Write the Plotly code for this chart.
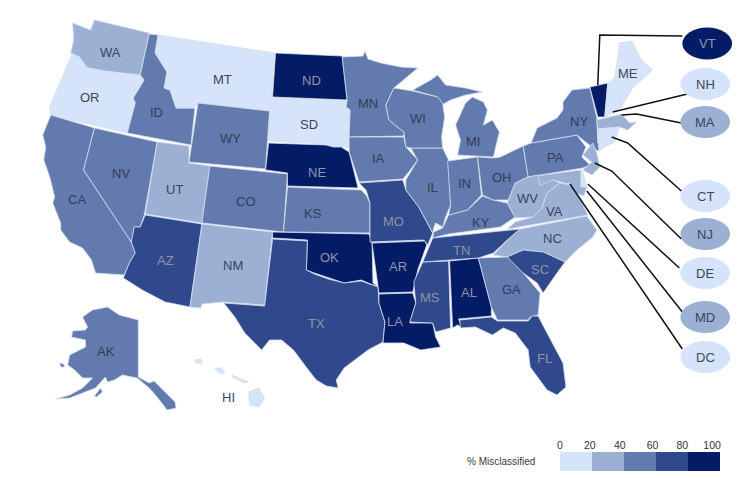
import plotly.graph_objects as go

# outlines (pixel coords), the cdn map can't be loaded offline
WA = [(70,23),(88,30),(92,20),(147,33),(138,75),(113,72),(102,71),(85,68),(78,63),(77,57),(68,53),(71,40)]
OR = [(69,55),(77,57),(85,68),(102,71),(140,76),(142,80),(131,98),(133,103),(125,133),(48,115),(47,107),(57,83)]
CA = [(48,115),(92,128),(81,170),(129,242),(133,253),(127,263),(122,275),(93,273),(89,260),(80,248),(67,242),(58,230),(58,223),(50,203),(52,197),(47,177),(41,160),(43,147),(40,135),(46,120)]
NV = [(92,128),(155,142),(142,215),(138,227),(132,227),(129,242),(81,170)]
ID = [(147,34),(156,35),(153,53),(165,72),(162,88),(168,90),(174,108),(193,108),(189,145),(125,133),(133,103),(131,98),(142,80),(138,75)]
MT = [(156,35),(273,53),(270,97),(268,110),(195,103),(193,108),(174,108),(168,90),(162,88),(165,72),(153,53)]
WY = [(196,103),(268,111),(264,169),(187,162)]
UT = [(155,142),(187,146),(187,163),(208,166),(200,223),(143,214)]
AZ = [(143,215),(200,224),(188,307),(163,302),(140,290),(121,278),(127,263),(133,253),(129,242),(132,227),(138,227)]
NM = [(200,224),(271,232),(263,305),(222,302),(200,304),(199,308),(188,307)]
CO = [(208,166),(286,174),(282,232),(200,223)]
ND = [(274,53),(341,56),(346,100),(271,97)]
SD = [(269,98),(346,101),(345,107),(349,110),(348,148),(340,147),(332,147),(325,144),(267,141)]
NE = [(267,143),(325,145),(332,147),(340,147),(348,152),(357,188),(286,186),(286,173),(264,170)]
KS = [(286,187),(360,190),(365,195),(369,203),(369,233),(282,232)]
OK = [(271,232),(368,234),(371,243),(372,283),(377,287),(360,280),(343,283),(327,278),(313,273),(305,270),(306,240),(271,238)]
TX = [(271,239),(306,241),(305,270),(313,274),(327,279),(343,283),(360,281),(377,287),(378,303),(384,322),(382,342),(367,350),(343,368),(335,380),(337,388),(325,386),(315,380),(307,370),(292,350),(280,340),(268,340),(260,350),(243,333),(233,317),(222,303),(263,306)]
MN = [(341,57),(362,56),(364,51),(367,59),(380,63),(400,67),(417,68),(393,88),(385,105),(388,120),(403,132),(403,136),(348,137),(349,110),(345,107),(346,100)]
IA = [(348,137),(403,137),(405,147),(417,160),(408,172),(402,179),(358,182),(348,152)]
MO = [(358,183),(402,180),(405,190),(418,207),(432,233),(427,245),(423,240),(369,242),(369,203),(365,190)]
AR = [(371,243),(424,241),(426,245),(417,270),(412,292),(378,293),(377,286)]
LA = [(378,294),(412,293),(415,303),(409,323),(432,323),(435,337),(440,347),(420,350),(403,343),(382,343),(384,322),(378,303)]
MS = [(422,262),(448,261),(450,328),(435,332),(432,323),(409,322),(415,303),(413,282)]
AL = [(449,261),(478,258),(491,307),(491,316),(458,319),(462,328),(457,325),(452,328)]
TN = [(432,238),(520,229),(507,240),(493,253),(478,258),(422,262),(430,243)]
KY = [(482,196),(493,200),(507,203),(515,217),(500,227),(448,234),(432,238),(433,232),(442,228),(448,215),(467,210)]
IL = [(410,148),(442,148),(448,160),(450,205),(445,217),(442,227),(435,223),(433,228),(432,233),(418,207),(405,190),(405,180),(417,160)]
IN = [(447,161),(477,157),(481,195),(467,210),(448,215),(450,205)]
OH = [(477,157),(493,158),(500,157),(523,146),(528,177),(515,183),(508,200),(493,200),(482,195)]
MI = [(457,155),(460,140),(455,125),(465,103),(472,97),(483,102),(487,110),(483,125),(492,120),(499,132),(493,157),(477,156),None,(412,90),(430,80),(437,75),(445,85),(465,88),(482,92),(465,95),(450,100),(441,105),(437,97)]
WI = [(393,88),(412,91),(437,97),(442,103),(444,117),(441,137),(442,148),(410,148),(405,147),(403,132),(388,120),(385,105)]
PA = [(523,146),(531,143),(577,135),(586,147),(582,157),(590,165),(583,168),(528,177)]
NY = [(531,143),(537,128),(557,118),(563,110),(563,102),(572,90),(590,88),(597,118),(598,143),(602,148),(615,140),(598,151),(587,143),(577,135)]
VT = [(590,87),(608,83),(605,117),(598,117)]
NH = [(608,83),(615,78),(622,107),(613,113),(605,117)]
ME = [(615,78),(620,43),(632,41),(642,60),(653,70),(633,88),(622,107)]
MA = [(597,120),(622,114),(630,123),(637,122),(628,130),(620,127),(598,129)]
CT = [(598,129),(620,127),(615,142),(599,150)]
NJ = [(593,143),(597,153),(600,167),(592,175),(583,170),(592,162),(583,155)]
DE = [(582,170),(587,187),(581,187)]
MD = [(528,177),(581,170),(581,187),(587,187),(584,196),(573,192),(568,184),(553,180),(540,187),(538,182)]
DC = [(566,184),(570,183),(571,187),(567,188)]
WV = [(528,177),(538,175),(540,185),(553,180),(560,183),(547,193),(542,208),(533,217),(515,218),(507,203),(515,183)]
VA = [(560,183),(570,185),(577,193),(588,215),(507,229),(515,222),(533,217),(542,208),(547,193)]
NC = [(520,229),(587,216),(597,230),(593,237),(577,250),(565,262),(543,252),(523,250),(507,257),(493,255),(507,240)]
SC = [(507,257),(523,250),(543,252),(565,262),(557,273),(543,293),(537,283),(523,273),(510,262)]
GA = [(478,258),(507,257),(523,273),(540,293),(538,315),(530,317),(528,320),(497,320),(491,307)]
FL = [(459,320),(491,317),(497,321),(528,321),(532,316),(538,316),(547,333),(563,363),(566,387),(557,395),(547,390),(530,367),(528,350),(515,333),(503,328),(492,335),(475,327),(460,328)]
AK = [(80,317),(90,310),(105,307),(117,315),(136,320),(136,377),(147,383),(152,381),(163,392),(173,402),(174,408),(165,410),(155,397),(147,388),(135,378),(120,375),(112,380),(105,382),(103,377),(97,383),(93,388),(80,393),(67,398),(53,399),(67,395),(80,388),(90,378),(80,378),(72,370),(65,365),(67,355),(83,347),(83,340),(69,337),(70,331),(83,330),(85,327),None,(92,396),(98,388),(100,392),(94,397),None,(57,363),(61,364),(62,367),(58,367)]
HI = [(247,392),(257,388),(263,398),(257,407),(248,405),None,(230,375),(247,382),(243,383),(232,378),None,(213,368),(220,368),(223,373),(217,373),None,(193,360),(199,359),(200,363),(194,363)]

states = ["WA","OR","CA","NV","ID","MT","WY","UT","AZ","NM","CO","ND","SD","NE","KS","OK","TX","MN","IA","MO","AR","LA","MS","AL","TN","KY","IL","IN","OH","MI","WI","PA","NY","VT","NH","ME","MA","CT","NJ","DE","MD","DC","WV","VA","NC","SC","GA","FL","AK","HI"]
outlines = [WA,OR,CA,NV,ID,MT,WY,UT,AZ,NM,CO,ND,SD,NE,KS,OK,TX,MN,IA,MO,AR,LA,MS,AL,TN,KY,IL,IN,OH,MI,WI,PA,NY,VT,NH,ME,MA,CT,NJ,DE,MD,DC,WV,VA,NC,SC,GA,FL,AK,HI]
# only the colour bin can be read, so every state gets its bin midpoint
values = [30,10,50,50,50,10,50,30,70,30,50,90,10,90,50,90,70,50,50,70,90,90,70,90,70,50,50,50,50,50,50,50,50,90,10,10,30,10,30,10,30,10,30,30,30,70,50,70,50,10]
label_x = [108,87,74,119,154,221,229,172,163,231,244,310,308,316,312,328,315,367,378,393,397,394,429,468,461,481,432,464,502,473,417,555,579,None,None,628,None,None,None,None,None,None,527,554,552,540,511,544,104,227]
label_y = [52,97,199,173,112,79,138,189,260,265,201,80,124,172,213,257,323,103,158,221,266,321,297,292,250,222,187,183,177,141,118,157,121,None,None,73,None,None,None,None,None,None,198,211,238,269,289,358,351,397]

bin_edges = [0, 20, 40, 60, 80, 100]
bin_colors = ["#d5e4fa", "#9cb0d4", "#627aad", "#30498c", "#031c65"]
text_colors = ["#3d4658", "#39435c", "#333d58", "#8d93a6", "#8f96ad"]

# callouts for the small states
callouts = ["VT","NH","MA","CT","NJ","DE","MD","DC"]
callout_y = [43.5,84,122,196,234,273,317,357]
callout_x = [708,706,706,706,706,706,706,706]
VT_line = [(683,36),(600,35),(598,85)]
NH_line = [(688,94),(613,112)]
MA_line = [(682,123),(637,114),(622,115)]
CT_line = [(682,191),(628,143),(612,137)]
NJ_line = [(682,239),(612,171),(595,163)]
DE_line = [(680,268),(588,184)]
MD_line = [(683,312),(587,191)]
DC_line = [(683,349),(570,184)]
leaders = [VT_line,NH_line,MA_line,CT_line,NJ_line,DE_line,MD_line,DC_line]

legend_ticks = [0,18.6,37.3,57.8,76.4,95]
legend_labels = ["0","20","40","60","80","100"]
legend_mid = [10,30,50,70,90]


def bin_of(v):
    for i in range(5):
        if v <= bin_edges[i + 1]:
            return i
    return 4


def closed_rings(outline):
    # close each part on its own so islands don't get joined back to the mainland
    xs, ys, start = [], [], None
    for p in outline + [None]:
        if p is None:
            xs += [start[0], None]
            ys += [start[1], None]
            start = None
        else:
            start = start or p
            xs.append(p[0])
            ys.append(p[1])
    return xs[:-1], ys[:-1]


fig = go.Figure()

for name, outline, v in zip(states, outlines, values):
    xs, ys = closed_rings(outline)
    fig.add_trace(go.Scatter(
        x=xs, y=ys,
        mode="lines", fill="toself", fillcolor=bin_colors[bin_of(v)],
        line=dict(color="#d3dcee", width=0.8),
        name=name, hoverinfo="name", showlegend=False))

for pts in leaders:
    fig.add_trace(go.Scatter(x=[p[0] for p in pts], y=[p[1] for p in pts], mode="lines",
                             line=dict(color="#111111", width=1.5),
                             hoverinfo="skip", showlegend=False))

for name, x, y in zip(states, label_x, label_y):
    if x is None:
        continue
    v = values[states.index(name)]
    fig.add_annotation(x=x, y=y, text=name, showarrow=False,
                       font=dict(family="Liberation Sans", size=13, color=text_colors[bin_of(v)]))

for name, x, y in zip(callouts, callout_x, callout_y):
    v = values[states.index(name)]
    fig.add_shape(type="circle", x0=x-25, x1=x+25, y0=y-16, y1=y+16,
                  fillcolor=bin_colors[bin_of(v)], line_width=0, layer="above")
    fig.add_annotation(x=x, y=y, text=name, showarrow=False,
                       font=dict(family="Liberation Sans", size=13, color=text_colors[bin_of(v)]))

# legend strip
fig.add_trace(go.Heatmap(x=legend_mid, y=[0], z=[legend_mid], xaxis="x2", yaxis="y2",
                         zmin=0, zmax=100, showscale=False, hoverinfo="skip",
                         colorscale=[[0, bin_colors[0]], [0.2, bin_colors[0]], [0.2, bin_colors[1]], [0.4, bin_colors[1]],
                                     [0.4, bin_colors[2]], [0.6, bin_colors[2]], [0.6, bin_colors[3]], [0.8, bin_colors[3]],
                                     [0.8, bin_colors[4]], [1, bin_colors[4]]]))

fig.add_annotation(x=501, y=461, text="% Misclassified", showarrow=False,
                   font=dict(family="Liberation Sans", size=10, color="#3a3a3a"))

fig.update_layout(
    width=748, height=478, margin=dict(l=0, r=0, t=0, b=0),
    paper_bgcolor="white", plot_bgcolor="white", showlegend=False,
    xaxis=dict(range=[0, 748], visible=False, domain=[0, 1]),
    yaxis=dict(range=[478, 0], visible=False, domain=[0, 1]),
    xaxis2=dict(domain=[560/748, 721/748], range=[0, 100], anchor="y2", side="top",
                tickvals=legend_ticks, ticktext=legend_labels, ticks="", showgrid=False, zeroline=False,
                tickfont=dict(family="Liberation Sans", size=10.5, color="#333333")),
    yaxis2=dict(domain=[1-471/478, 1-452/478], anchor="x2", visible=False),
)

# the page's default 8px body margin would push everything off
fig.write_html("out.html", config={"displayModeBar": False},
               post_script="document.body.style.margin='0';")
